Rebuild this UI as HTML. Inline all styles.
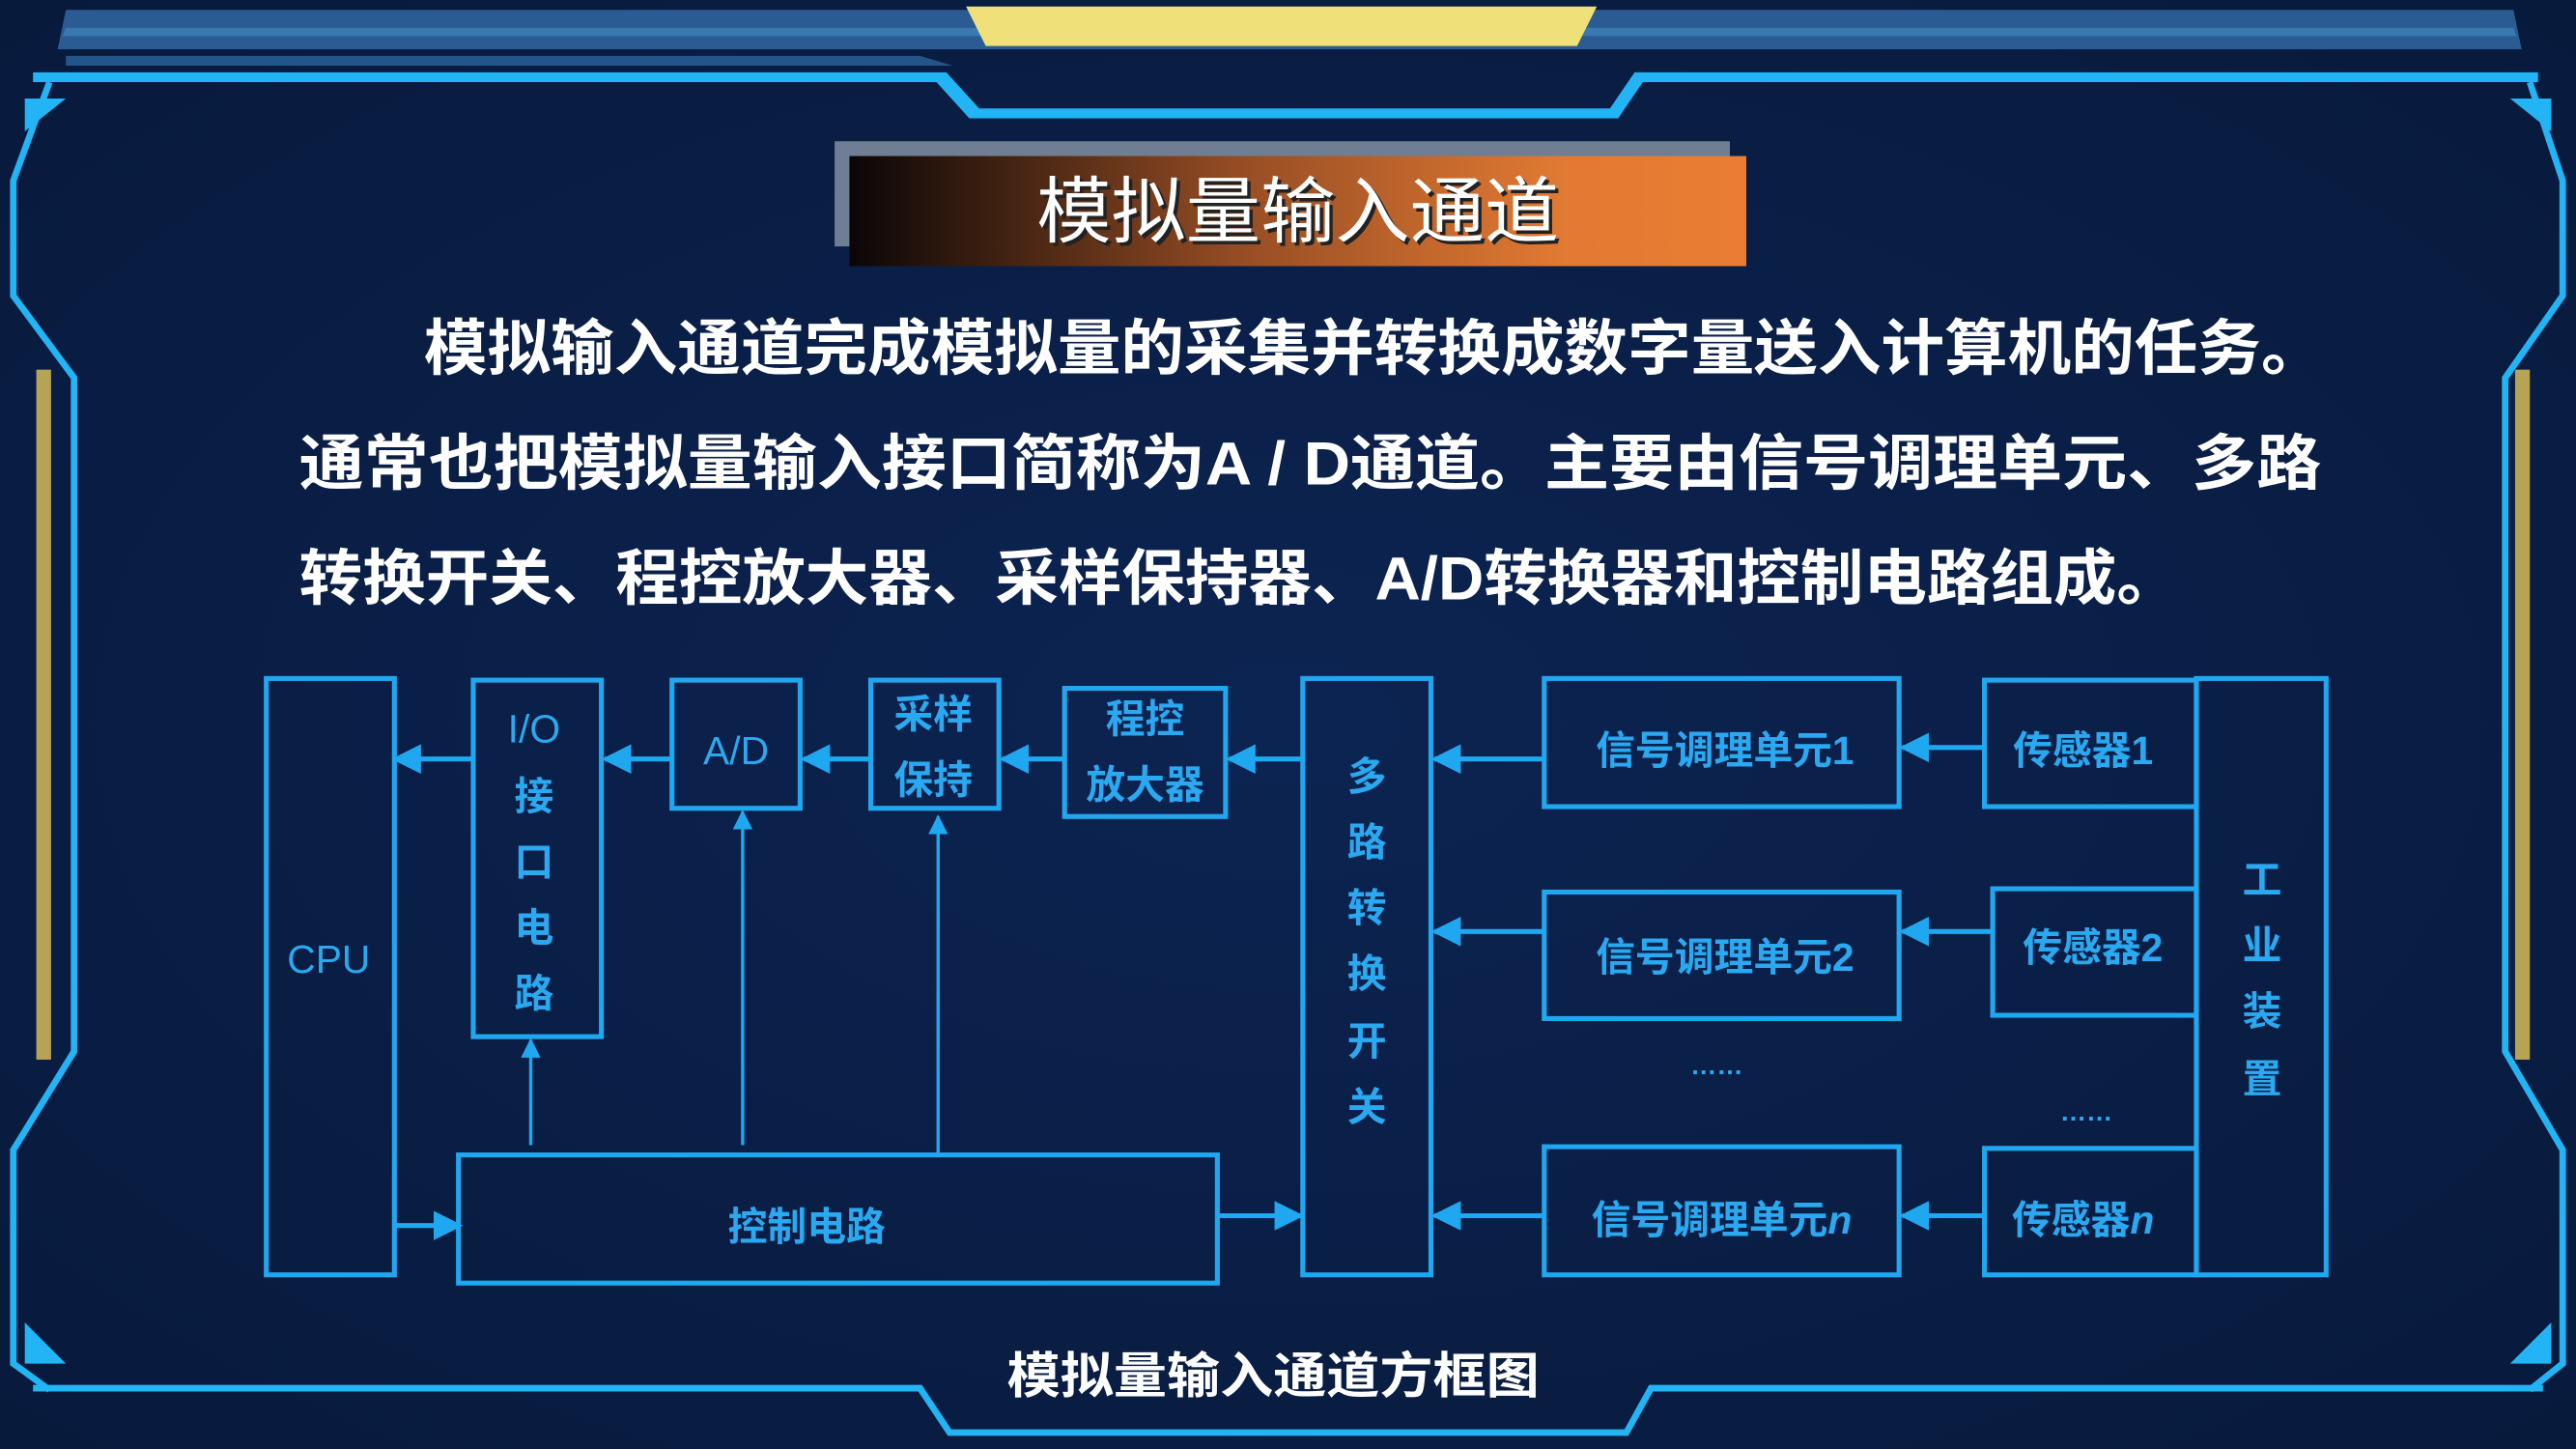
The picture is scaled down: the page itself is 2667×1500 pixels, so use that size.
<!DOCTYPE html>
<html><head><meta charset="utf-8"><style>
html,body{margin:0;padding:0;background:#0a1d42;}
svg{display:block;}
text{font-family:"Liberation Sans","Noto Sans CJK SC",sans-serif;}
</style></head><body>
<svg width="2667" height="1500" viewBox="0 0 1568 882" xmlns="http://www.w3.org/2000/svg">
<defs>
<linearGradient id="tg" x1="0" x2="1" y1="0" y2="0"><stop offset="0" stop-color="#0a0606"/><stop offset="0.45" stop-color="#9a4f25"/><stop offset="0.8" stop-color="#e27a33"/><stop offset="1" stop-color="#ea7d33"/></linearGradient>
<radialGradient id="bg" cx="0.5" cy="0.5" r="0.7"><stop offset="0" stop-color="#0c2452"/><stop offset="1" stop-color="#081a3c"/></radialGradient>
<marker id="ah" viewBox="0 0 10 10" refX="9" refY="5" markerWidth="6" markerHeight="6" orient="auto"><path d="M0,0 L10,5 L0,10 z" fill="#1fa8f0"/></marker>
</defs>
<rect width="1568" height="882" fill="url(#bg)"/>
<polygon points="40,6 1530,6 1535,30 35,30" fill="#2a5c93"/>
<polygon points="40,17 1530,17 1532,22 38,22" fill="#3a78b0"/>
<polygon points="588,4 972,4 960,28 600,28" fill="#efe07a"/>
<polygon points="20,50 570,50 590,72 985,72 1000,50 1545,50 1545,44 995,44 980,66 596,66 576,44 20,44" fill="#22b4f4"/>
<polygon points="40,34 560,34 580,40 40,40" fill="#24558a"/>
<polyline points="30,50 8,110 8,180 45,230 45,640 8,700 8,830 30,846" fill="none" stroke="#22b4f4" stroke-width="4"/>
<polyline points="1540,50 1560,110 1560,180 1525,230 1525,640 1560,700 1560,830 1540,846" fill="none" stroke="#22b4f4" stroke-width="4"/>
<rect x="22" y="225" width="9" height="420" fill="#b7a355"/>
<rect x="1531" y="225" width="9" height="420" fill="#b7a355"/>
<polygon points="15,60 40,60 15,80" fill="#22b4f4"/>
<polygon points="1553,60 1528,60 1553,80" fill="#22b4f4"/>
<polygon points="15,805 40,830 15,830" fill="#22b4f4"/>
<polygon points="1553,805 1528,830 1553,830" fill="#22b4f4"/>
<polyline points="20,845 560,845 578,872 990,872 1005,845 1548,845" fill="none" stroke="#22b4f4" stroke-width="4"/>
<rect x="508" y="86" width="545" height="64" fill="#6f7e92"/>
<rect x="517" y="95" width="546" height="67" fill="url(#tg)"/>
<text x="792" y="146" font-size="44" fill="#222" text-anchor="middle" textLength="318" lengthAdjust="spacingAndGlyphs">模拟量输入通道</text>
<text x="790" y="144" font-size="44" fill="#fff" text-anchor="middle" textLength="318" lengthAdjust="spacingAndGlyphs">模拟量输入通道</text>
<g fill="#fff" font-weight="bold" font-size="37">
<text x="258" y="225" textLength="1157" lengthAdjust="spacingAndGlyphs">模拟输入通道完成模拟量的采集并转换成数字量送入计算机的任务。</text>
<text x="182" y="295" textLength="1231" lengthAdjust="spacingAndGlyphs">通常也把模拟量输入接口简称为A / D通道。主要由信号调理单元、多路</text>
<text x="182" y="365" textLength="1145" lengthAdjust="spacingAndGlyphs">转换开关、程控放大器、采样保持器、A/D转换器和控制电路组成。</text>
</g>
<g fill="none" stroke="#1fa8f0" stroke-width="3">
<rect x="162" y="413" width="78" height="363"/>
<rect x="288" y="414" width="78" height="217"/>
<rect x="409" y="414" width="78" height="78"/>
<rect x="530" y="414" width="78" height="78"/>
<rect x="648" y="419" width="98" height="78"/>
<rect x="793" y="413" width="78" height="363"/>
<rect x="940" y="413" width="216" height="78"/>
<rect x="940" y="543" width="216" height="77"/>
<rect x="940" y="698" width="216" height="78"/>
<rect x="1208" y="414" width="129" height="77"/>
<rect x="1213" y="541" width="124" height="77"/>
<rect x="1208" y="699" width="129" height="77"/>
<rect x="1337" y="413" width="79" height="363"/>
<rect x="279" y="703" width="462" height="78"/>
</g>
<g stroke="#1fa8f0" stroke-width="3" marker-end="url(#ah)">
<line x1="287" y1="462" x2="240" y2="462"/>
<line x1="408" y1="462" x2="368" y2="462"/>
<line x1="529" y1="462" x2="489" y2="462"/>
<line x1="647" y1="462" x2="610" y2="462"/>
<line x1="792" y1="462" x2="748" y2="462"/>
<line x1="939" y1="462" x2="873" y2="462"/>
<line x1="1207" y1="455" x2="1158" y2="455"/>
<line x1="939" y1="567" x2="873" y2="567"/>
<line x1="1212" y1="567" x2="1158" y2="567"/>
<line x1="939" y1="740" x2="873" y2="740"/>
<line x1="1207" y1="740" x2="1158" y2="740"/>
<line x1="240" y1="746" x2="280" y2="746"/>
<line x1="741" y1="740" x2="792" y2="740"/>
</g>
<g stroke="#1fa8f0" stroke-width="2" marker-end="url(#ah)">
<line x1="323" y1="697" x2="323" y2="633"/>
<line x1="452" y1="697" x2="452" y2="494"/>
<line x1="571" y1="703" x2="571" y2="497"/>
</g>
<g fill="#2aa8f0" font-size="24" font-weight="bold" text-anchor="middle">
<text x="200" y="592" font-weight="normal">CPU</text>
<text x="325" y="452" font-weight="normal">I/O</text>
<text x="325" y="493">接</text><text x="325" y="533">口</text><text x="325" y="573">电</text><text x="325" y="613">路</text>
<text x="448" y="465" font-weight="normal">A/D</text>
<text x="568" y="443">采样</text><text x="568" y="483">保持</text>
<text x="697" y="446">程控</text><text x="697" y="486">放大器</text>
<text x="832" y="481">多</text><text x="832" y="521">路</text><text x="832" y="561">转</text><text x="832" y="601">换</text><text x="832" y="642">开</text><text x="832" y="682">关</text>
<text x="1050" y="465">信号调理单元1</text>
<text x="1050" y="591">信号调理单元2</text>
<text x="1048" y="751">信号调理单元<tspan font-style="italic">n</tspan></text>
<text x="1268" y="465">传感器1</text>
<text x="1274" y="585">传感器2</text>
<text x="1268" y="751">传感器<tspan font-style="italic">n</tspan></text>
<text x="1377" y="544">工</text><text x="1377" y="584">业</text><text x="1377" y="624">装</text><text x="1377" y="665">置</text>
<text x="491" y="755">控制电路</text>
<text x="1045" y="654" font-size="16">……</text>
<text x="1270" y="682" font-size="16">……</text>
</g>
<text x="775" y="848" font-size="30" font-weight="bold" fill="#fff" text-anchor="middle" textLength="324" lengthAdjust="spacingAndGlyphs">模拟量输入通道方框图</text>
</svg>
</body></html>
